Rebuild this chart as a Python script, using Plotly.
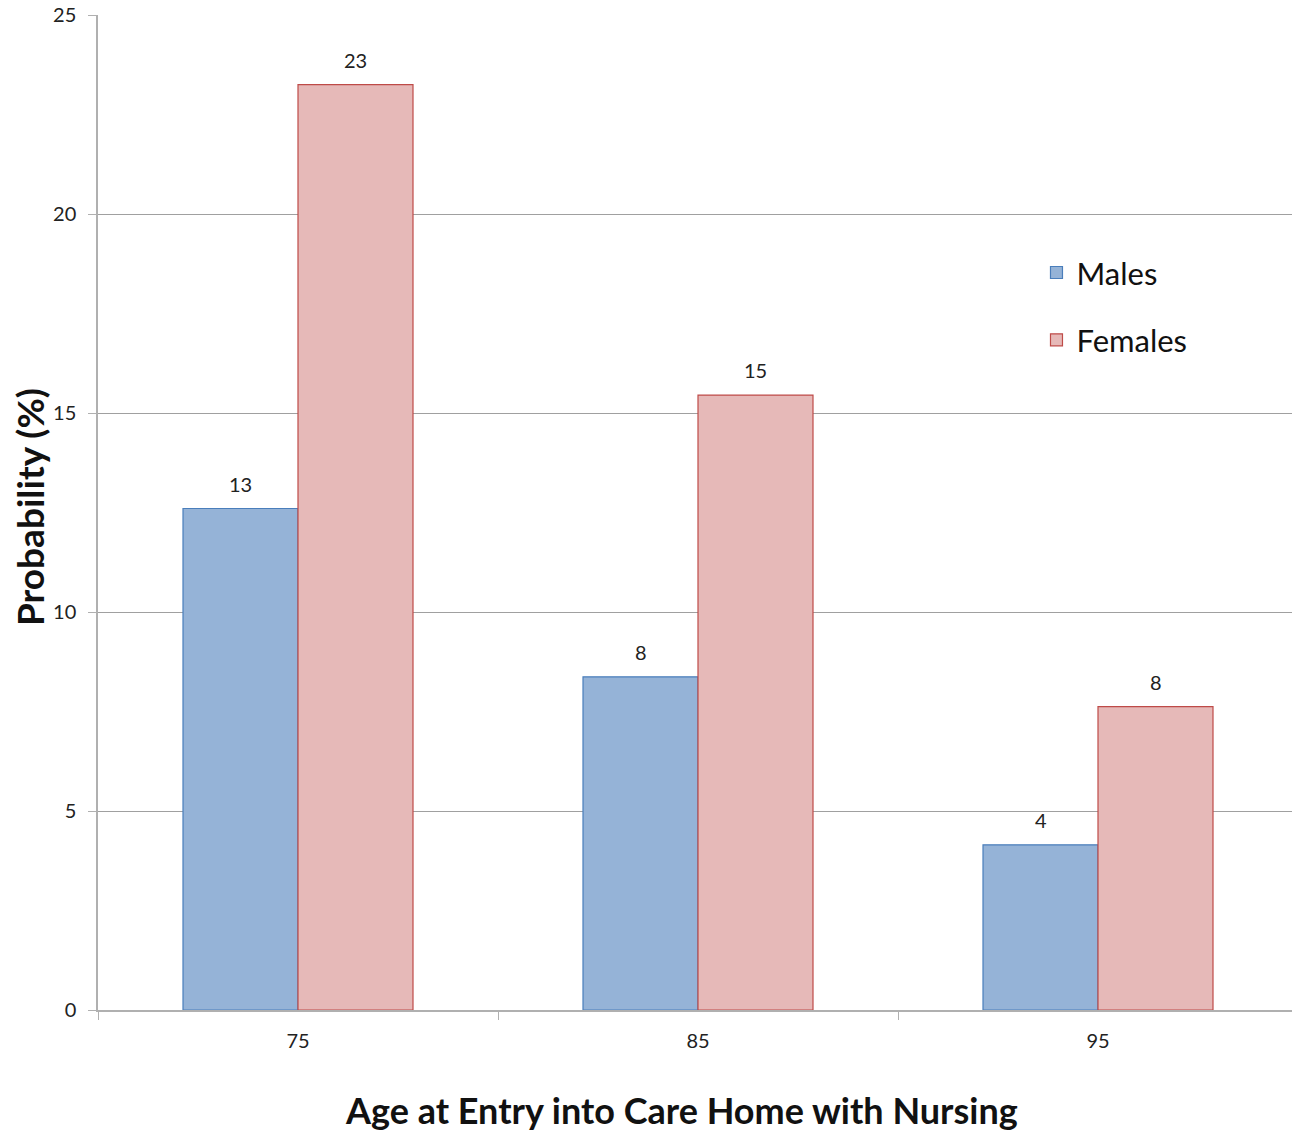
import plotly.graph_objects as go

ages = ["75", "85", "95"]
males = [12.6, 8.37, 4.15]
females = [23.25, 15.45, 7.62]

FONT = "Lato, 'Open Sans', sans-serif"
BARGAP = 0.425
bar_w = (1 - BARGAP) / 2

fig = go.Figure()
fig.add_trace(go.Bar(
    name="Males", x=ages, y=males,
    marker=dict(color="#95B3D7", line=dict(color="#4A7EBB", width=1.2)),
    legendgroup="m",
))
fig.add_trace(go.Bar(
    name="Females", x=ages, y=females,
    marker=dict(color="#E6B9B8", line=dict(color="#BE4B48", width=1.2)),
    legendgroup="f",
))

# value labels above each bar
for i, (m, f) in enumerate(zip(males, females)):
    for val, off in ((m, -bar_w / 2), (f, bar_w / 2)):
        fig.add_annotation(
            x=i + off, y=val, text=f"{val:.0f}", showarrow=False,
            yanchor="bottom", yshift=11,
            font=dict(family=FONT, size=20, color="#222"),
        )

# axis titles
fig.add_annotation(
    xref="paper", yref="paper", x=0.4883, y=-0.1005,
    xanchor="center", yanchor="middle", showarrow=False,
    text="<b>Age at Entry into Care Home with Nursing</b>",
    font=dict(family=FONT, size=36, color="#111"),
)
fig.add_annotation(
    xref="paper", yref="paper", x=-0.0578, y=0.5055,
    xanchor="center", yanchor="middle", showarrow=False, textangle=-90,
    text="<b>Probability (%)</b>",
    font=dict(family=FONT, size=37, color="#111"),
)

fig.update_layout(
    width=1292, height=1131,
    margin=dict(l=98, r=0, t=15, b=121),
    paper_bgcolor="white", plot_bgcolor="white",
    barmode="group", bargap=BARGAP, bargroupgap=0,
    font=dict(family=FONT, size=20, color="#222"),
    legend=dict(
        x=0.786, y=0.768, xanchor="left", yanchor="top",
        font=dict(family=FONT, size=31, color="#111"),
        tracegroupgap=24, traceorder="grouped",
        bgcolor="rgba(0,0,0,0)",
    ),
    xaxis=dict(
        type="category", range=[-0.5, 2.485],
        showline=True, linecolor="#B0B0B0", linewidth=1.5,
        ticks="outside", ticklen=8, tickcolor="#B0B0B0", tickson="boundaries",
        showgrid=False, ticklabelstandoff=12,
        tickfont=dict(family=FONT, size=20, color="#222"),
    ),
    yaxis=dict(
        range=[0, 25], tickvals=[0, 5, 10, 15, 20, 25],
        showline=True, linecolor="#B0B0B0", linewidth=1.5,
        ticks="outside", ticklen=8, tickcolor="#B0B0B0",
        showgrid=True, gridcolor="#A0A0A0", gridwidth=1,
        zeroline=False, ticklabelstandoff=8,
        tickfont=dict(family=FONT, size=20, color="#222"),
    ),
)

fig.write_html("out.html")
